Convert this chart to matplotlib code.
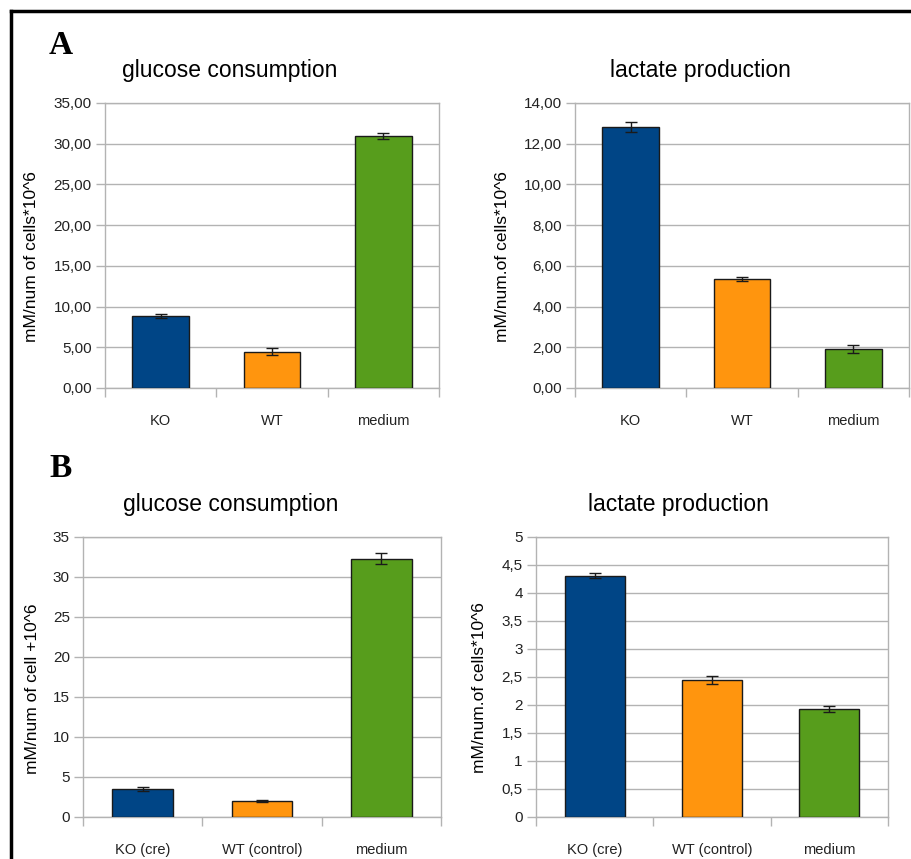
import matplotlib
matplotlib.use("Agg")
import matplotlib.pyplot as plt
from matplotlib.ticker import FuncFormatter, MultipleLocator, FixedLocator
from matplotlib.lines import Line2D

plt.rcParams['font.family'] = ['Liberation Sans', 'DejaVu Sans']

# panel A
labels_a = ['KO', 'WT', 'medium']
gluc_a = [8.85, 4.45, 30.95]
gluc_a_err = [0.27, 0.42, 0.37]
lact_a = [12.82, 5.35, 1.90]
lact_a_err = [0.25, 0.11, 0.19]

# panel B
labels_b = ['KO (cre)', 'WT (control)', 'medium']
gluc_b = [3.5, 1.97, 32.3]
gluc_b_err = [0.2, 0.1, 0.7]
lact_b = [4.31, 2.45, 1.93]
lact_b_err = [0.05, 0.07, 0.06]

colors = ['#004586', '#ff950e', '#579d1c']
grid_col = '#b3b3b3'

W, H = 912, 859
fig = plt.figure(figsize=(W / 100, H / 100), dpi=100)


def px_axes(left, right, top, bottom):
    return fig.add_axes([left / W, 1 - bottom / H, (right - left) / W, (bottom - top) / H])


def comma(fmt):
    return FuncFormatter(lambda v, p: (fmt % v).replace('.', ','))


def bar_panel(ax, labels, vals, errs, ymax, step, fmt):
    x = range(len(vals))
    ax.bar(x, vals, width=0.51, color=colors, edgecolor='#1a1a1a', linewidth=1.0, zorder=3)
    ax.errorbar(x, vals, yerr=errs, fmt='none', ecolor='#1a1a1a', elinewidth=1.0,
                capsize=4.5, capthick=1.0, zorder=4)
    ax.set_xlim(-0.5, len(vals) - 0.5)
    ax.set_ylim(0, ymax)
    ax.yaxis.set_major_locator(MultipleLocator(step))
    ax.yaxis.set_major_formatter(comma(fmt))
    ax.grid(axis='y', color=grid_col, linewidth=1.0, zorder=0)
    ax.set_axisbelow(True)
    for s in ax.spines.values():
        s.set_color(grid_col)
        s.set_linewidth(1.0)
    ax.set_xticks(list(x))
    ax.set_xticklabels(labels, fontsize=10.5, color='#222222')
    ax.xaxis.set_minor_locator(FixedLocator([i - 0.5 for i in range(len(vals) + 1)]))
    ax.tick_params(axis='x', which='major', length=0, pad=19)
    ax.tick_params(axis='x', which='minor', length=6.5, color=grid_col, width=1.0)
    ax.tick_params(axis='y', length=6.5, color=grid_col, width=1.0, pad=3,
                   labelsize=11, labelcolor='#222222')


ax1 = px_axes(105, 439, 103, 388)
bar_panel(ax1, labels_a, gluc_a, gluc_a_err, 35, 5, '%.2f')
ax2 = px_axes(575, 909, 103, 388)
bar_panel(ax2, labels_a, lact_a, lact_a_err, 14, 2, '%.2f')
ax3 = px_axes(83, 441, 537, 817)
bar_panel(ax3, labels_b, gluc_b, gluc_b_err, 35, 5, '%g')
ax4 = px_axes(536, 888, 537, 817)
bar_panel(ax4, labels_b, lact_b, lact_b_err, 5, 0.5, '%g')

# titles, axis labels and panel letters
def ftext(x, y, s, **kw):
    fig.text(x / W, 1 - y / H, s, ha='center', va='center', **kw)


ftext(230, 70, 'glucose consumption', fontsize=16.5)
ftext(700, 70, 'lactate production', fontsize=16.5)
ftext(231, 505, 'glucose consumption', fontsize=16.5)
ftext(678, 505, 'lactate production', fontsize=16.5)

ftext(32, 257, 'mM/num of cells*10^6', fontsize=12.5, rotation=90)
ftext(503, 257, 'mM/num.of cells*10^6', fontsize=12.5, rotation=90)
ftext(33, 689, 'mM/num of cell +10^6', fontsize=12.5, rotation=90)
ftext(480, 688, 'mM/num.of cells*10^6', fontsize=12.5, rotation=90)

ftext(61, 45, 'A', fontsize=24, fontweight='bold', family=['Liberation Serif', 'DejaVu Serif'])
ftext(61, 468, 'B', fontsize=24, fontweight='bold', family=['Liberation Serif', 'DejaVu Serif'])

# frame around the figure (left and top edges)
fig.add_artist(Line2D([11 / W, 11 / W], [0, 1 - 11 / H], color='black', linewidth=2.5))
fig.add_artist(Line2D([11 / W, 1], [1 - 11 / H, 1 - 11 / H], color='black', linewidth=2.5))

fig.savefig('out.png', dpi=100)
